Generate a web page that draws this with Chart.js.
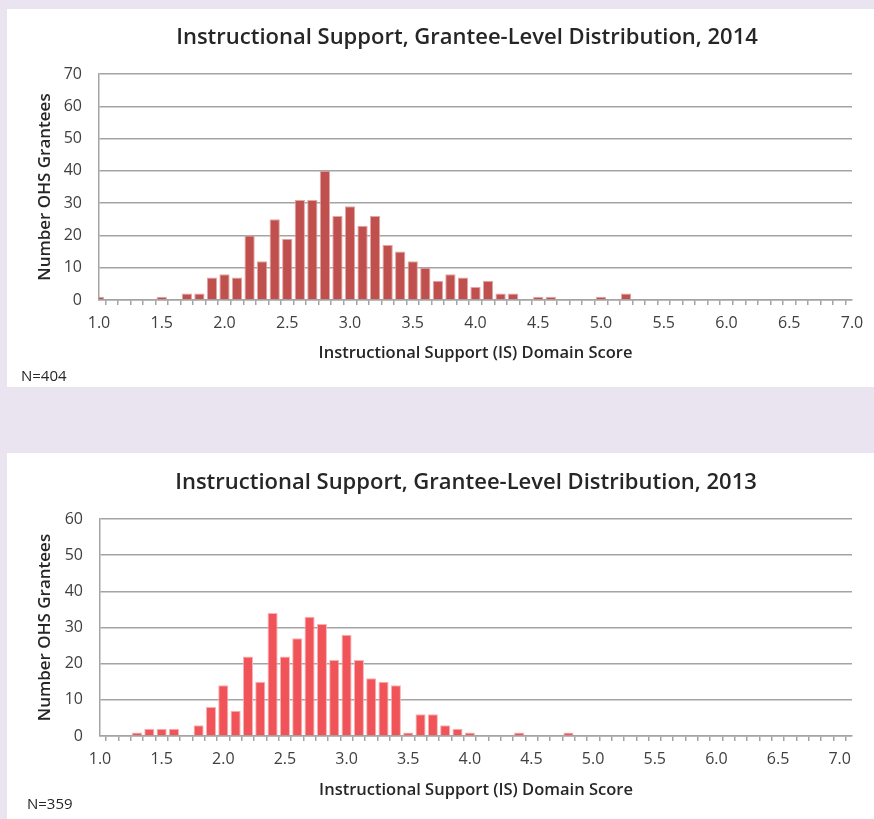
<!DOCTYPE html>
<html>
<head>
<meta charset="utf-8">
<script src="https://cdn.jsdelivr.net/npm/chart.js@4/dist/chart.umd.min.js"></script>
<style>
  html, body { margin: 0; padding: 0; }
  body { width: 874px; height: 819px; background: #e9e4f0; position: relative; overflow: hidden; font-family: "Open Sans", sans-serif; }
  .panel { position: absolute; background: #ffffff; }
  .wrap { position: absolute; }
  .note { position: absolute; font-family: "Open Sans", sans-serif; font-size: 15px; color: #262626; line-height: 18px; }
</style>
</head>
<body>
<div class="panel" style="left:7px; top:9px; width:867px; height:378px;"></div>
<div class="panel" style="left:7px; top:453px; width:867px; height:366px;"></div>
<div class="wrap" style="left:7px; top:9px; width:867px; height:378px;"><canvas id="c2014"></canvas></div>
<div class="wrap" style="left:7px; top:453px; width:867px; height:366px;"><canvas id="c2013"></canvas></div>
<div class="note" style="left:21px; top:366px;">N=404</div>
<div class="note" style="left:27px; top:794px;">N=359</div>
<script>
// ---- Data ----
const title2014 = "Instructional Support, Grantee-Level Distribution, 2014";
const title2013 = "Instructional Support, Grantee-Level Distribution, 2013";
const xAxisTitle = "Instructional Support (IS) Domain Score";
const yAxisTitle = "Number OHS Grantees";

const scoreBins2014 = ["1.0","1.1","1.2","1.3","1.4","1.5","1.6","1.7","1.8","1.9",
  "2.0","2.1","2.2","2.3","2.4","2.5","2.6","2.7","2.8","2.9",
  "3.0","3.1","3.2","3.3","3.4","3.5","3.6","3.7","3.8","3.9",
  "4.0","4.1","4.2","4.3","4.4","4.5","4.6","4.7","4.8","4.9",
  "5.0","5.1","5.2","5.3","5.4","5.5","5.6","5.7","5.8","5.9",
  "6.0","6.1","6.2","6.3","6.4","6.5","6.6","6.7","6.8","6.9","7.0"];
const counts2014 = [1,0,0,0,0,1,0,2,2,7,
  8,7,20,12,25,19,31,31,40,26,
  29,23,26,17,15,12,10,6,8,7,
  4,6,2,2,0,1,1,0,0,0,
  1,0,2,0,0,0,0,0,0,0,
  0,0,0,0,0,0,0,0,0,0,0];

const scoreBins2013 = ["1.0","1.1","1.2","1.3","1.4","1.5","1.6","1.7","1.8","1.9",
  "2.0","2.1","2.2","2.3","2.4","2.5","2.6","2.7","2.8","2.9",
  "3.0","3.1","3.2","3.3","3.4","3.5","3.6","3.7","3.8","3.9",
  "4.0","4.1","4.2","4.3","4.4","4.5","4.6","4.7","4.8","4.9",
  "5.0","5.1","5.2","5.3","5.4","5.5","5.6","5.7","5.8","5.9",
  "6.0","6.1","6.2","6.3","6.4","6.5","6.6","6.7","6.8","6.9","7.0","7.1"];
const counts2013 = [0,0,0,1,2,2,2,0,3,8,
  14,7,22,15,34,22,27,33,31,21,
  28,21,16,15,14,1,6,6,3,2,
  1,0,0,0,1,0,0,0,1,0,
  0,0,0,0,0,0,0,0,0,0,
  0,0,0,0,0,0,0,0,0,0,0,0];

const yMax2014 = 70;
const yMax2013 = 60;

// ---- Styles ----
const FONT = '"Open Sans", sans-serif';
const GRID = '#a4a4a4';
const TICKC = '#404040';
const TITLEC = '#262626';

// Chart title drawn through a small Chart.js plugin at a set centre
const placedTitle = {
  id: 'placedTitle',
  afterDraw(chart, args, o) {
    const ctx = chart.ctx;
    ctx.save();
    ctx.font = '600 22px ' + FONT;
    ctx.fillStyle = TITLEC;
    ctx.textAlign = 'center';
    ctx.textBaseline = 'middle';
    ctx.fillText(o.text, o.x, o.y);
    ctx.restore();
  }
};

function makeChart(id, opts) {
  return new Chart(document.getElementById(id), {
    type: 'bar',
    plugins: [placedTitle],
    data: {
      labels: opts.labels,
      datasets: [{
        data: opts.values,
        backgroundColor: opts.color,
        borderColor: opts.edge,
        borderWidth: 1,
        borderSkipped: 'start',
        categoryPercentage: 1.0,
        barPercentage: 0.82,
        clip: 0
      }]
    },
    options: {
      responsive: true,
      maintainAspectRatio: false,
      animation: false,
      events: [],
      layout: { padding: { left: 0, right: 22, top: opts.top, bottom: 0 } },
      plugins: {
        legend: { display: false },
        tooltip: { enabled: false },
        title: { display: false },
        placedTitle: { text: opts.title, x: opts.titleX, y: opts.titleY }
      },
      scales: {
        x: {
          type: 'category',
          offset: false,
          grid: { drawOnChartArea: false, drawTicks: true, tickLength: 5, color: GRID, lineWidth: 1.5 },
          border: { display: true, color: GRID, width: 1.5 },
          ticks: {
            autoSkip: false, maxRotation: 0, minRotation: 0, padding: 9,
            color: TICKC, font: { family: FONT, size: 16 },
            callback: function (v, i) { return i % 5 === 0 ? this.getLabelForValue(v) : ''; }
          },
          title: {
            display: true, text: xAxisTitle, color: TITLEC,
            font: { family: FONT, size: 16.5, weight: '600' },
            padding: { top: 0, bottom: opts.xTitleBottom }
          },
          afterFit: s => { s.height = opts.xHeight; }
        },
        y: {
          min: 0, max: opts.yMax,
          grid: { drawTicks: false, color: GRID, lineWidth: 1.5 },
          border: { display: true, color: GRID, width: 1.5 },
          ticks: { stepSize: 10, padding: 17, color: TICKC, font: { family: FONT, size: 16 } },
          title: {
            display: true, text: yAxisTitle, color: TITLEC,
            font: { family: FONT, size: 17, weight: '600' },
            padding: { top: opts.yTitlePad, bottom: 0 }
          },
          afterFit: s => { s.width = opts.yWidth; }
        }
      }
    }
  });
}

makeChart('c2014', {
  labels: scoreBins2014, values: counts2014, color: '#c0504d', edge: '#e3a6a4',
  title: title2014, titleX: 460, titleY: 29, yMax: yMax2014,
  top: 65, yWidth: 92, yTitlePad: 27.8, xHeight: 87, xTitleBottom: 24
});

makeChart('c2013', {
  labels: scoreBins2013, values: counts2013, color: '#f05358', edge: '#f8b2b4',
  title: title2013, titleX: 459, titleY: 30, yMax: yMax2013,
  top: 66, yWidth: 93, yTitlePad: 28.3, xHeight: 83, xTitleBottom: 19
});
</script>
</body>
</html>
